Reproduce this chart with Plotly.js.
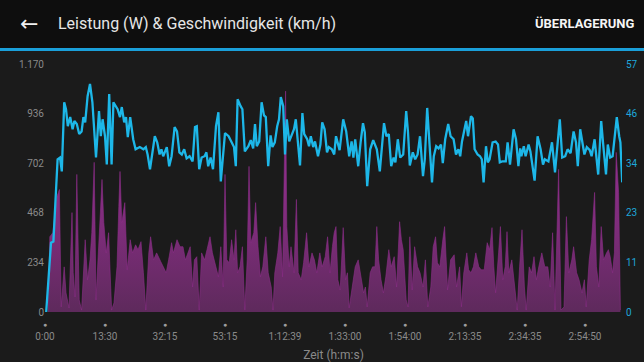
<!DOCTYPE html>
<html>
<head>
<meta charset="utf-8">
<script src="https://cdn.plot.ly/plotly-3.0.1.min.js"></script>
<style>
  html, body { margin: 0; padding: 0; background: #1b1b1b; }
  #chart { width: 644px; height: 362px; }
</style>
</head>
<body>
<div id="chart"></div>
<script>
// ---- data (x = distance along the ride, km; ticks labelled with elapsed time) ----
const speedKm = [0.2,1.0,1.4,1.7,2.1,2.5,2.8,3.2,3.5,3.8,
  4.2,4.6,4.9,5.3,5.7,6.1,6.4,6.7,7.1,7.5,
  7.9,8.5,9.0,9.3,9.6,10.0,10.3,10.7,11.1,11.4,
  12.1,12.5,12.8,13.2,13.5,13.8,14.2,14.7,15.1,15.8,
  16.4,16.8,17.1,17.5,17.9,18.3,18.7,19.1,19.4,19.7,
  20.3,20.7,21.1,21.6,22.0,22.4,22.8,23.2,23.6,24.1,
  24.6,25.0,25.3,25.7,26.1,26.6,26.9,27.2,27.6,28.0,
  28.5,28.9,29.3,29.7,30.0,30.6,31.0,31.5,31.8,32.1,
  32.6,32.9,33.3,33.9,34.3,34.7,35.0,35.3,35.7,36.1,
  36.5,36.8,37.2,37.6,37.9,38.3,38.7,39.0,39.3,39.7,
  40.0,40.3,40.7,41.1,41.5,41.8,42.1,42.5,42.9,43.2,
  43.7,44.0,44.3,44.7,45.0,45.5,45.9,46.2,46.6,47.0,
  47.3,47.8,48.2,48.5,49.1,49.7,50.2,50.7,51.1,51.4,
  51.7,52.2,52.6,53.0,53.3,53.7,54.2,54.7,55.3,55.8,
  56.5,56.9,57.3,57.7,58.1,58.4,58.8,59.2,59.7,60.2,
  60.5,60.8,61.3,61.7,62.1,62.5,63.0,63.3,63.7,64.1,
  64.5,64.8,65.2,65.6,66.0,66.3,66.7,67.2,67.6,68.1,
  68.5,68.9,69.2,69.5,69.8,70.2,70.5,71.0,71.3,71.6,
  72.1,72.5,72.8,73.1,73.5,73.8,74.1,74.6,75.1,75.5,
  75.8,76.2,76.8,77.1,77.5,78.1,78.5,78.9,79.2,79.4,
  79.8,80.1,80.6,80.9,81.6,82.1,82.6,83.0,83.3,83.9,
  84.5,85.0,85.8,86.2,86.7,87.1,87.6,88.1,88.5,88.8,
  89.2,89.6,89.9,90.3,90.8,91.1,91.6,92.2,92.7,93.0,
  93.5,93.8,94.2,94.6,94.9,95.3,95.7,95.9,96.2];

const speedKmh = [0,15.9,16.2,23.5,35.1,35.5,32.3,48.2,46.6,42.7,
  44.8,42.0,43.9,43.2,40.9,41.5,44.8,43.6,49.6,52.4,
  48.2,35.5,46.2,40.4,44.3,40.4,33.9,50.1,33.9,48.2,
  46.6,44.8,47.1,43.6,44.8,40.2,44.8,39.7,37.4,37.9,
  37.4,37.9,36.2,32.8,36.7,40.4,39.0,36.2,37.4,35.8,
  37.9,33.5,35.8,42.5,41.5,36.7,36.2,37.4,35.3,35.8,
  34.6,42.5,42.7,32.8,35.5,35.8,36.7,33.5,35.5,32.8,
  42.7,45.9,30.0,37.4,41.1,40.4,39.2,37.9,33.5,48.9,
  47.3,46.6,36.9,38.1,39.5,37.6,43.2,38.1,39.2,48.2,
  45.2,44.8,33.5,40.6,37.9,39.0,42.7,44.3,49.4,47.3,
  36.2,44.3,39.2,40.4,42.0,44.3,39.7,33.7,45.7,40.9,
  39.7,38.1,40.4,37.9,39.2,35.8,38.5,43.6,42.0,36.7,
  37.9,37.4,36.2,40.4,37.2,44.3,41.5,35.8,39.2,35.5,
  39.7,33.5,39.0,43.4,41.3,28.9,37.4,39.5,37.4,32.3,
  43.4,40.4,40.9,33.5,35.5,34.4,39.7,35.5,36.2,46.2,
  41.3,33.7,36.7,35.1,36.2,40.4,31.2,35.1,46.9,39.0,
  29.8,35.8,38.1,37.6,38.5,34.2,39.7,43.2,40.4,39.7,
  36.2,37.4,35.8,39.2,41.5,43.9,40.4,45.0,44.5,37.4,
  36.2,35.8,35.1,29.8,38.1,34.4,35.1,39.0,39.2,38.5,
  34.4,34.6,34.6,39.0,33.9,42.0,39.7,33.5,37.6,35.8,
  38.1,35.8,38.5,36.9,30.2,40.4,37.4,33.9,35.1,34.6,
  39.0,32.1,44.3,35.5,35.8,37.4,36.5,41.5,39.0,33.5,
  42.0,39.0,36.2,37.9,37.2,35.8,39.7,31.6,43.9,39.0,
  31.6,38.5,35.5,35.8,40.4,44.8,40.4,39.0,29.8];

const powerKm = [0.55,0.8,1.3,1.6,2.0,2.4,2.7,3.2,3.5,4.0,
  4.5,4.7,5.0,5.3,5.7,6.1,6.4,6.7,7.1,7.5,
  7.8,8.2,8.5,8.8,9.2,9.5,9.8,10.2,10.6,11.1,
  11.5,12.0,12.3,12.5,12.8,13.3,13.7,14.2,14.6,15.1,
  15.5,16.0,16.4,16.8,17.3,17.6,18.1,18.6,19.3,20.2,
  20.6,21.1,21.4,22.0,22.5,23.0,23.4,24.2,24.6,24.9,
  25.3,25.7,26.1,26.6,27.0,27.5,27.9,28.3,28.9,29.3,
  29.7,30.0,30.3,30.7,31.1,31.5,31.8,32.1,32.5,32.9,
  33.3,33.7,34.0,34.3,34.8,35.1,35.5,35.9,36.3,36.8,
  37.2,37.7,38.0,38.3,38.8,39.2,39.6,39.9,40.1,40.3,
  40.7,41.0,41.5,41.9,42.2,42.7,43.1,43.6,44.0,44.5,
  44.9,45.3,45.8,46.2,46.7,47.1,47.5,47.9,48.2,48.5,
  48.8,49.2,49.7,50.1,50.4,50.7,51.2,51.7,52.2,52.6,
  53.1,53.4,53.7,54.2,54.6,55.0,55.3,55.6,56.0,56.4,
  56.8,57.3,57.7,58.2,58.6,59.1,59.4,59.7,60.2,60.5,
  60.8,61.2,61.6,62.1,62.5,63.0,63.4,63.8,64.3,64.7,
  65.1,65.4,65.8,66.3,66.6,67.1,67.6,68.2,68.6,69.1,
  69.4,69.8,70.3,70.6,71.0,71.4,71.8,72.3,72.7,73.2,
  73.7,74.1,74.5,74.8,75.1,75.6,75.9,76.3,76.7,77.0,
  77.3,77.8,78.2,78.7,79.1,79.5,79.9,80.2,80.7,81.1,
  81.5,81.9,82.3,82.8,83.3,83.8,84.2,84.6,85.0,85.3,
  85.6,86.0,86.5,86.9,87.3,87.8,88.1,88.6,89.0,89.5,
  89.9,90.2,90.7,91.1,91.6,91.9,92.3,92.7,93.1,93.6,
  93.9,94.2,94.6,94.9,95.2,95.6,95.9];

const powerW = [0,355,374,450,545,578,24,213,90,19,
  469,185,71,649,57,9,213,341,152,246,
  374,706,57,213,483,625,422,279,374,9,
  43,213,497,663,422,516,199,341,279,317,
  294,332,185,9,279,355,246,279,237,185,
  246,327,279,341,308,308,246,308,118,246,
  261,9,279,246,294,355,279,232,166,308,
  118,649,246,232,341,246,388,185,213,308,
  9,246,687,327,374,516,308,166,213,355,
  185,118,9,185,279,403,166,720,1042,403,
  213,308,185,531,185,152,232,374,213,279,
  246,185,279,213,261,355,185,308,374,403,
  152,104,398,152,185,19,118,213,246,185,
  90,118,24,185,213,213,403,246,152,90,
  166,294,213,261,118,426,341,294,57,24,
  355,104,308,213,185,118,246,24,118,308,
  355,232,213,341,403,104,246,270,118,213,
  24,185,279,199,185,213,279,213,199,199,
  327,294,398,213,90,279,403,152,213,379,
  185,246,152,9,213,388,118,9,213,185,
  261,152,213,279,213,213,118,374,9,403,
  673,9,24,450,185,246,308,185,152,90,
  152,24,246,341,564,213,118,403,246,279,
  294,261,185,279,753,564,9];

const xTickKm = [0,10,20,30,40,50,60,70,80,90];
const xTickLabels = ['0:00','13:30','32:15','53:15','1:12:39','1:33:00','1:54:00','2:13:35','2:34:35','2:54:50'];
const leftTicks = [0,234,468,702,936,1170];
const leftLabels = ['0','234','468','702','936','1.170'];
const rightTicks = [0,11.4,22.8,34.2,45.6,57];
const rightLabels = ['0','11','23','34','46','57'];

// ---- layout geometry ----
const W = 644, H = 362;
const M = {l: 45, r: 22, t: 64, b: 50};
const plotW = W - M.l - M.r, plotH = H - M.t - M.b;
const px = x => (x - M.l) / plotW;
const py = y => (H - M.b - y) / plotH;

const FONT = 'Roboto, "Open Sans", sans-serif';

const traces = [
  {
    x: powerKm, y: powerW, type: 'scatter', mode: 'lines',
    line: {color: '#8c2d88', width: 0.6},
    fill: 'tozeroy',
    fillgradient: {type: 'vertical', start: 0, stop: 1000,
      colorscale: [[0, '#5e2a5c'], [0.35, '#7a2c77'], [1, '#a0309a']]},
    yaxis: 'y', hoverinfo: 'skip'
  },
  {
    x: speedKm, y: speedKmh, type: 'scatter', mode: 'lines',
    line: {color: '#1db7e8', width: 2.3},
    yaxis: 'y2', hoverinfo: 'skip'
  }
];

const dot = "<span style='font-size:7px;color:#9c9c9c'>●</span><br>";

const layout = {
  width: W, height: H,
  margin: M,
  paper_bgcolor: '#1b1b1b',
  plot_bgcolor: '#1b1b1b',
  showlegend: false,
  font: {family: FONT, color: '#8a8a8a', size: 10},
  xaxis: {
    range: [0, plotW / 6],
    tickmode: 'array', tickvals: xTickKm,
    ticktext: xTickLabels.map(t => dot + t),
    ticks: '', showgrid: false, zeroline: false, showline: false,
    ticklabelstandoff: 4,
    tickfont: {family: FONT, size: 10, color: '#8a8a8a'},
    automargin: false,
    title: {text: 'Zeit (h:m:s)', font: {family: FONT, size: 12, color: '#8a8a8a'}, standoff: 9}
  },
  yaxis: {
    range: [0, 1170],
    tickmode: 'array', tickvals: leftTicks, ticktext: leftLabels,
    ticks: '', showgrid: false, zeroline: false, showline: false,
    tickfont: {family: FONT, size: 10, color: '#8a8a8a'},
    automargin: false
  },
  yaxis2: {
    range: [0, 57], overlaying: 'y', side: 'right',
    tickmode: 'array', tickvals: rightTicks, ticktext: rightLabels,
    ticks: '', showgrid: false, zeroline: false, showline: false,
    ticklabelstandoff: 3,
    tickfont: {family: FONT, size: 10, color: '#1ea6da'},
    automargin: false
  },
  shapes: [
    {type: 'rect', xref: 'paper', yref: 'paper', x0: px(0), x1: px(W), y0: py(48), y1: py(0),
     fillcolor: '#0e0e0e', line: {width: 0}, layer: 'below'},
    {type: 'rect', xref: 'paper', yref: 'paper', x0: px(0), x1: px(W), y0: py(51), y1: py(48),
     fillcolor: '#1a9fd9', line: {width: 0}, layer: 'above'}
  ],
  annotations: [
    {xref: 'paper', yref: 'paper', x: px(29), y: py(24), text: '←', showarrow: false,
     xanchor: 'center', yanchor: 'middle', font: {family: '"DejaVu Sans", sans-serif', size: 22, color: '#f0f0f0'}},
    {xref: 'paper', yref: 'paper', x: px(56), y: py(24), text: 'Leistung (W) & Geschwindigkeit (km/h)', showarrow: false,
     xanchor: 'left', yanchor: 'middle', font: {family: FONT, size: 16, color: '#e6e6e6'}},
    {xref: 'paper', yref: 'paper', x: px(637), y: py(24), text: '<b>ÜBERLAGERUNG</b>', showarrow: false,
     xanchor: 'right', yanchor: 'middle', font: {family: FONT, size: 13, color: '#f5f5f5'}}
  ]
};

Plotly.newPlot('chart', traces, layout, {staticPlot: true, displayModeBar: false});
</script>
</body>
</html>
